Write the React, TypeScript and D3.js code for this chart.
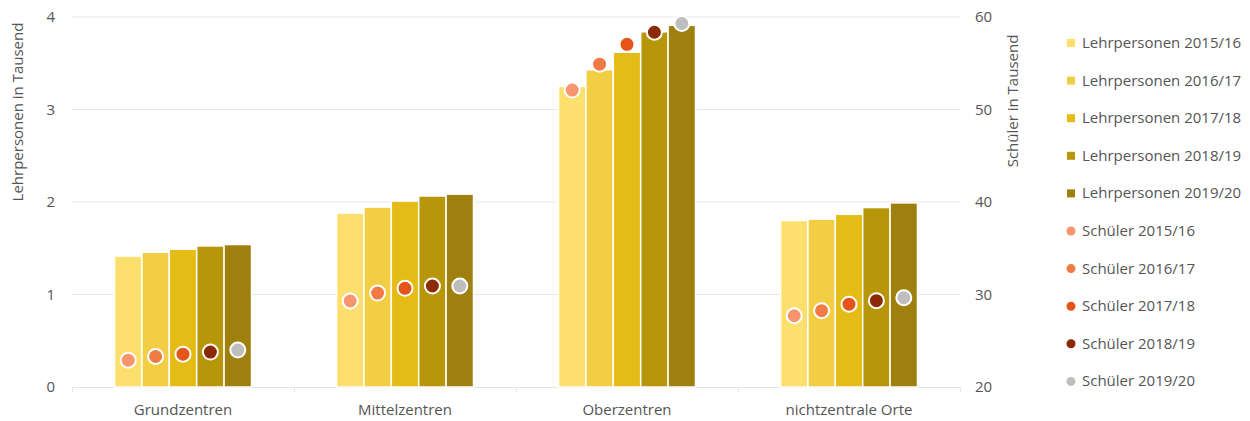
import React from "react";
import * as d3 from "d3";

const categories = ["Grundzentren", "Mittelzentren", "Oberzentren", "nichtzentrale Orte"];
const years = ["2015/16", "2016/17", "2017/18", "2018/19", "2019/20"];
// Lehrpersonen in Tausend, per year (rows) per category (cols)
const lehr2015 = [1.415, 1.88, 3.25, 1.8];
const lehr2016 = [1.456, 1.945, 3.43, 1.815];
const lehr2017 = [1.49, 2.01, 3.62, 1.867];
const lehr2018 = [1.525, 2.065, 3.84, 1.94];
const lehr2019 = [1.54, 2.085, 3.91, 1.99];
// Schüler in Tausend
const sch2015 = [22.9, 29.3, 52.1, 27.7];
const sch2016 = [23.3, 30.15, 54.9, 28.25];
const sch2017 = [23.55, 30.67, 57.05, 28.95];
const sch2018 = [23.78, 30.92, 58.35, 29.33];
const sch2019 = [24.0, 30.92, 59.3, 29.65];
const leftTicks = [0, 1, 2, 3, 4];
const rightTicks = [20, 30, 40, 50, 60];

const barColors = ["#FDDF6E", "#F2CE45", "#E5BC17", "#B8960A", "#9F800F"];
const dotColors = ["#F9956E", "#F07B45", "#E55418", "#8B2A04", "#BEBEBE"];

const lehr = [lehr2015, lehr2016, lehr2017, lehr2018, lehr2019];
const sch = [sch2015, sch2016, sch2017, sch2018, sch2019];

const FONT = "'Open Sans', sans-serif";
const TEXT = "#555";
const FS = 15;

export default function App() {
  const W = 1250, H = 421;
  const left = 72, right = 960, top = 17, bottom = 387;
  const x = d3.scaleBand<string>().domain(categories).range([left, right]);
  const inner = d3.scaleBand<string>().domain(years).range([0, 137]).paddingInner(0);
  const groupOffset = (x.bandwidth() - 137) / 2;
  const yL = d3.scaleLinear().domain([0, 4]).range([bottom, top]);
  const yR = d3.scaleLinear().domain([20, 60]).range([bottom, top]);

  const legendItems = [
    ...years.map((yr, i) => ({ label: `Lehrpersonen ${yr}`, color: barColors[i], shape: "rect" })),
    ...years.map((yr, i) => ({ label: `Schüler ${yr}`, color: dotColors[i], shape: "circle" })),
  ];

  return (
    <svg width={W} height={H} style={{ position: "absolute", left: 0, top: 0, fontFamily: FONT }}>
      <rect width={W} height={H} fill="#fff" />
      {leftTicks.slice(1).map((t) => (
        <line key={t} x1={left} x2={right} y1={yL(t)} y2={yL(t)} stroke="#e6e6e6" strokeWidth={1} />
      ))}
      <line x1={left} x2={right} y1={bottom + 0.5} y2={bottom + 0.5} stroke="#e6e6e6" strokeWidth={1} />
      {d3.range(categories.length + 1).map((i) => {
        const xx = i < categories.length ? x(categories[i])! : right;
        return <line key={i} x1={xx + 0.5} x2={xx + 0.5} y1={bottom} y2={bottom + 5} stroke="#e6e6e6" />;
      })}
      {leftTicks.map((t) => (
        <text key={t} x={55} y={yL(t) + 5} textAnchor="end" fontSize={FS} fill={TEXT}>{t}</text>
      ))}
      {rightTicks.map((t) => (
        <text key={t} x={975} y={yR(t) + 5} textAnchor="start" fontSize={FS} fill={TEXT}>{t}</text>
      ))}
      <text transform={`translate(23,112) rotate(-90)`} textAnchor="middle" fontSize={FS} fill={TEXT}>Lehrpersonen in Tausend</text>
      <text transform={`translate(1018,101) rotate(-90)`} textAnchor="middle" fontSize={FS} fill={TEXT}>Schüler in Tausend</text>
      {categories.map((c) => (
        <text key={c} x={x(c)! + x.bandwidth() / 2} y={415} textAnchor="middle" fontSize={FS} fill={TEXT}>{c}</text>
      ))}
      {categories.map((c, ci) => (
        <g key={c} transform={`translate(${x(c)! + groupOffset},0)`}>
          {years.map((yr, yi) => (
            <rect key={yr} x={inner(yr)!} y={yL(lehr[yi][ci])} width={inner.bandwidth()} height={bottom - yL(lehr[yi][ci])}
              fill={barColors[yi]} stroke="#fff" strokeWidth={1.5} />
          ))}
          {years.map((yr, yi) => (
            <circle key={yr} cx={inner(yr)! + inner.bandwidth() / 2} cy={yR(sch[yi][ci])} r={7.5}
              fill={dotColors[yi]} stroke="#fff" strokeWidth={2} />
          ))}
        </g>
      ))}
      {legendItems.map((it, i) => {
        const yy = 43 + i * 37.6;
        return (
          <g key={it.label} transform={`translate(1071,${yy})`}>
            {it.shape === "rect"
              ? <rect x={-4} y={-4} width={8} height={8} fill={it.color} />
              : <circle cx={0} cy={0} r={4.5} fill={it.color} />}
            <text x={11} y={5} fontSize={FS} fill={TEXT}>{it.label}</text>
          </g>
        );
      })}
    </svg>
  );
}
